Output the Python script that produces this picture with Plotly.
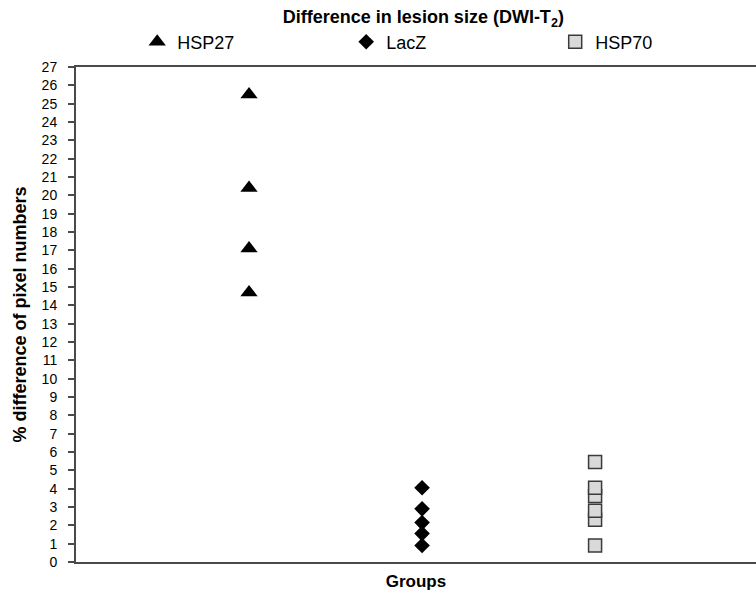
import plotly.graph_objects as go

groups = ["HSP27", "LacZ", "HSP70"]
group_pos = [1, 2, 3]
hsp27 = [25.5, 20.4, 17.1, 14.7]
lacz = [4.05, 2.9, 2.15, 1.55, 0.9]
hsp70 = [0.9, 2.3, 2.8, 3.6, 4.05, 5.45]
y_ticks = list(range(0, 28))

FONT = "Liberation Sans, Arial, sans-serif"
AX = "#4a4a4a"

fig = go.Figure()
fig.add_trace(go.Scatter(
    x=[group_pos[0]] * len(hsp27), y=hsp27, mode="markers", name=groups[0],
    marker=dict(symbol="triangle-up", size=15, color="black", line=dict(width=0))))
fig.add_trace(go.Scatter(
    x=[group_pos[1]] * len(lacz), y=lacz, mode="markers", name=groups[1],
    marker=dict(symbol="diamond", size=12, color="black", line=dict(width=0))))
fig.add_trace(go.Scatter(
    x=[group_pos[2]] * len(hsp70), y=hsp70, mode="markers", name=groups[2],
    marker=dict(symbol="square", size=13, color="#d9d9d9", line=dict(width=1.5, color="#3a3a3a"))))

fig.update_layout(
    width=756, height=595,
    margin=dict(l=76, r=0, t=67, b=33, autoexpand=False),
    paper_bgcolor="white", plot_bgcolor="white",
    font=dict(family=FONT, color="black"),
    title=dict(text="<b>Difference in lesion size (DWI-T<sub>2</sub>)</b>",
               x=0.56, xanchor="center", y=0.972, yanchor="middle",
               font=dict(family=FONT, size=18, color="black")),
    legend=dict(orientation="h", yanchor="middle", y=1.0505, xanchor="left", x=0.09,
                entrywidth=164, entrywidthmode="pixels",
                font=dict(family=FONT, size=18, color="black"),
                bgcolor="rgba(0,0,0,0)", borderwidth=0),
    xaxis=dict(range=[0, 3.93], showticklabels=False, ticks="", showgrid=False,
               zeroline=False, showline=True, linecolor=AX, linewidth=2, mirror=True,
               title=dict(text="<b>Groups</b>", standoff=12,
                          font=dict(family=FONT, size=17, color="black"))),
    yaxis=dict(range=[0, 27], tickvals=y_ticks, ticktext=[str(v) for v in y_ticks],
               ticks="outside", ticklen=6, tickwidth=1.5, tickcolor=AX,
               ticklabelstandoff=8,
               showgrid=False, zeroline=False, showline=True, linecolor=AX, linewidth=2,
               tickfont=dict(family=FONT, size=14, color="black"),
               title=dict(text="<b>% difference of pixel numbers</b>", standoff=10,
                          font=dict(family=FONT, size=18, color="black"))),
)

fig.write_html(
    "out.html",
    config={"displayModeBar": False},
    post_script="document.body.style.margin='0';document.body.style.overflow='hidden';",
)
